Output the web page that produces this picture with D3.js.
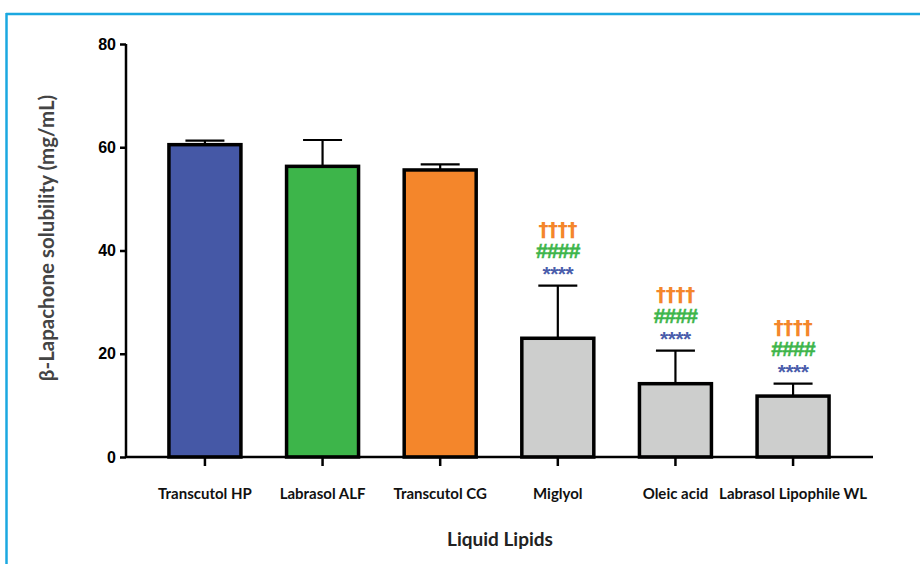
<!DOCTYPE html>
<html>
<head>
<meta charset="utf-8">
<script src="https://cdn.jsdelivr.net/npm/d3@7"></script>
<style>
  html, body { margin: 0; padding: 0; background: #fff; }
  svg { display: block; }
</style>
</head>
<body>
<svg id="chart" width="920" height="564"></svg>
<script>
// Solubility of β-lapachone in liquid lipids (mean + SD)
const categories = ["Transcutol HP", "Labrasol ALF", "Transcutol CG", "Miglyol", "Oleic acid", "Labrasol Lipophile WL"];
const means = [60.5, 56.3, 55.6, 23.0, 14.2, 11.8];
const sds = [0.8, 5.1, 1.1, 10.2, 6.4, 2.4];
const barColors = ["#4558a6", "#3db54a", "#f4862b", "#cdcecd", "#cdcecd", "#cdcecd"];
const yTicks = [0, 20, 40, 60, 80];
// significance marks: vs Transcutol HP (*), vs Labrasol ALF (#), vs Transcutol CG (†)
const sigStars = ["", "", "", "****", "****", "****"];
const sigHashes = ["", "", "", "####", "####", "####"];
const sigDaggers = ["", "", "", "††††", "††††", "††††"];

const svg = d3.select("#chart");

// outer frame (top and left edges)
svg.append("line").attr("x1", 6).attr("x2", 920).attr("y1", 14).attr("y2", 14)
  .attr("stroke", "#1ba8e0").attr("stroke-width", 2.5);
svg.append("line").attr("x1", 6.5).attr("x2", 6.5).attr("y1", 13).attr("y2", 564)
  .attr("stroke", "#1ba8e0").attr("stroke-width", 2.5);

const x = d3.scaleBand().domain(categories).range([126, 872])
  .paddingInner(0.388).paddingOuter(0.365);
const y = d3.scaleLinear().domain([0, 80]).range([457, 44]);

const g = svg.append("g");

// bars
g.selectAll("rect.bar").data(categories).join("rect")
  .attr("class", "bar")
  .attr("x", d => x(d))
  .attr("width", x.bandwidth())
  .attr("y", (d, i) => y(means[i]))
  .attr("height", (d, i) => y(0) - y(means[i]))
  .attr("fill", (d, i) => barColors[i])
  .attr("stroke", "#000").attr("stroke-width", 3.5);

// upward error bars
const capHalf = 19.5;
categories.forEach((c, i) => {
  const cx = x(c) + x.bandwidth() / 2;
  g.append("line").attr("x1", cx).attr("x2", cx)
    .attr("y1", y(means[i])).attr("y2", y(means[i] + sds[i]))
    .attr("stroke", "#000").attr("stroke-width", 2.2);
  g.append("line").attr("x1", cx - capHalf).attr("x2", cx + capHalf)
    .attr("y1", y(means[i] + sds[i])).attr("y2", y(means[i] + sds[i]))
    .attr("stroke", "#000").attr("stroke-width", 2.2);
});

// significance labels above the error bars
categories.forEach((c, i) => {
  const cx = x(c) + x.bandwidth() / 2;
  const top = y(means[i] + sds[i]);
  if (sigStars[i]) g.append("text").attr("x", cx).attr("y", top - 5)
    .attr("text-anchor", "middle").attr("font-family", "Liberation Sans, Arial, sans-serif")
    .attr("font-weight", "bold").attr("font-size", 21).attr("fill", "#4a5dab")
    .attr("letter-spacing", -0.5).text(sigStars[i]);
  if (sigHashes[i]) g.append("text").attr("x", cx).attr("y", top - 28)
    .attr("text-anchor", "middle").attr("font-family", "Liberation Sans, Arial, sans-serif")
    .attr("font-weight", "bold").attr("font-size", 21).attr("fill", "#3db54a")
    .attr("stroke", "#3db54a").attr("stroke-width", 0.5)
    .attr("letter-spacing", -0.8).text(sigHashes[i]);
  if (sigDaggers[i]) g.append("text").attr("x", cx).attr("y", top - 50)
    .attr("text-anchor", "middle").attr("font-family", "DejaVu Sans, sans-serif")
    .attr("font-weight", "bold").attr("font-size", 20).attr("fill", "#f4862b")
    .attr("letter-spacing", -0.3).text(sigDaggers[i]);
});

// y axis
const yAxis = d3.axisLeft(y).tickValues(yTicks).tickSize(6).tickPadding(4);
const ya = svg.append("g").attr("transform", "translate(126,0)").call(yAxis);
ya.select(".domain").attr("stroke-width", 2.5).attr("d", "M0,44V457");
ya.selectAll(".tick line").attr("stroke-width", 2.5);
ya.selectAll(".tick text").attr("font-family", "Liberation Sans, Arial, sans-serif")
  .attr("font-weight", "bold").attr("font-size", 16).attr("fill", "#000");

// x axis
const xAxis = d3.axisBottom(x).tickSize(9).tickPadding(22);
const xa = svg.append("g").attr("transform", "translate(0,457)").call(xAxis);
xa.select(".domain").attr("stroke-width", 2.5).attr("d", "M126,0H873");
xa.selectAll(".tick line").attr("stroke-width", 2.5);
xa.selectAll(".tick text").attr("font-family", "Lato, sans-serif")
  .attr("font-weight", "bold").attr("font-size", 15).attr("fill", "#111");

// axis titles
svg.append("text").attr("x", 500).attr("y", 546).attr("text-anchor", "middle")
  .attr("font-family", "Lato, sans-serif").attr("font-weight", "bold")
  .attr("font-size", 19).attr("fill", "#222").text("Liquid Lipids");
svg.append("text").attr("transform", "translate(54,238) rotate(-90)")
  .attr("text-anchor", "middle").attr("font-family", "Lato, sans-serif")
  .attr("font-weight", "bold").attr("font-size", 20.5).attr("fill", "#444")
  .text("β-Lapachone solubility (mg/mL)");
</script>
</body>
</html>
